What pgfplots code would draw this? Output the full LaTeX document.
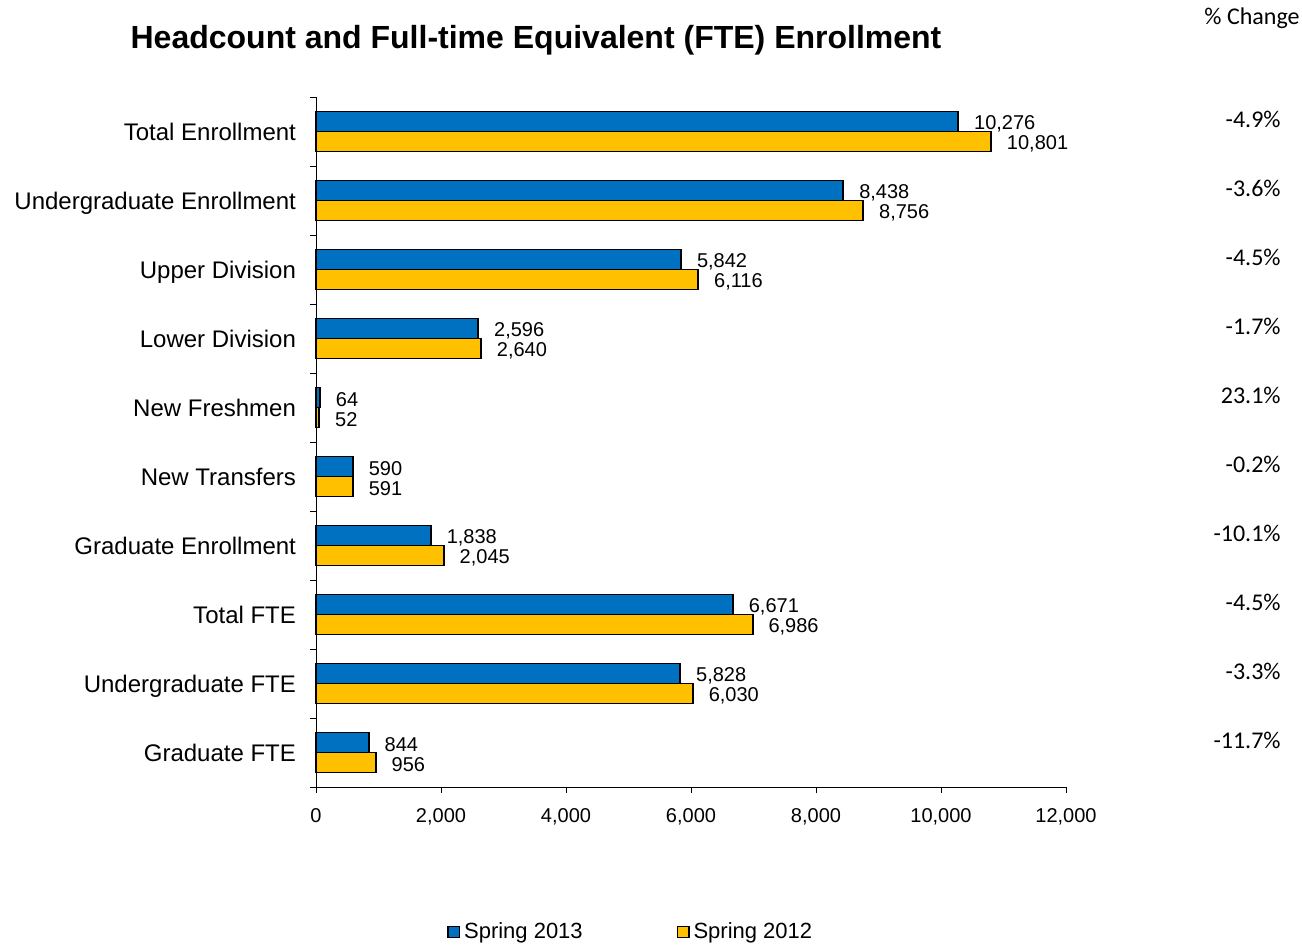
\documentclass[border=0pt]{standalone}
\usepackage{pgfplots}
\pgfplotsset{compat=1.18}
\usepackage{pgfplotstable}
\usepackage{fontspec}
\setmainfont{Liberation Sans}
\newfontfamily\calibri{Carlito}
\definecolor{sblue}{HTML}{0070C0}
\definecolor{syellow}{HTML}{FFC000}

\pgfplotstableread{
idx s2013 s2012
0 10276 10801
1 8438 8756
2 5842 6116
3 2596 2640
4 64 52
5 590 591
6 1838 2045
7 6671 6986
8 5828 6030
9 844 956
}\datatable

\begin{document}
\begin{tikzpicture}
\path[use as bounding box] (-158pt,-78.5pt) rectangle (493pt,393.5pt);
\begin{axis}[
  at={(0pt,0pt)}, anchor=south west,
  scale only axis, width=375pt, height=345pt,
  xbar, bar width=10pt,
  xmin=0, xmax=12000, ymin=-0.5, ymax=9.5, y dir=reverse,
  axis x line*=bottom, axis y line*=left,
  clip=false,
  tick align=outside,
  major tick length=3pt,
  minor tick length=3pt,
  xtick={0,2000,...,12000},
  scaled x ticks=false,
  ytick={0,...,9},
  yticklabels={Total Enrollment, Undergraduate Enrollment, Upper Division, Lower Division, New Freshmen, New Transfers, Graduate Enrollment, Total FTE, Undergraduate FTE, Graduate FTE},
  major y tick style={draw=none},
  minor ytick={-0.5,0.5,...,9.5},
  minor y tick style={draw=black},
  x tick style={draw=black},
  yticklabel style={font=\fontsize{12}{14}\selectfont, anchor=base east, xshift=-3.5pt, yshift=-4.3pt},
  xticklabel style={font=\fontsize{10}{12}\selectfont, yshift=-4pt},
  xticklabel={\pgfmathprintnumber[fixed,precision=0,1000 sep={,},assume math mode=true]{\tick}},
  /pgf/number format/.cd, 1000 sep={,}, assume math mode=true,
  /pgfplots/.cd,
  point meta=x,
  nodes near coords,
  nodes near coords style={font=\fontsize{10}{12}\selectfont, anchor=west, inner sep=0pt, xshift=7.5pt, yshift=-1pt},
  legend style={at={(0.421,-0.21)}, anchor=center, draw=none, legend columns=2,
    font=\fontsize{11}{13}\selectfont,
    /tikz/every even column/.append style={column sep=45pt}},
  legend image code/.code={\draw[#1, line width=0.6pt] (0pt,-2.9pt) rectangle (5.8pt,2.9pt);},
]
\addplot[fill=sblue, draw=black, line width=0.9pt, bar shift=5pt] table[x=s2013, y=idx] {\datatable};
\addlegendentry{Spring 2013}
\addplot[fill=syellow, draw=black, line width=0.9pt, bar shift=-5pt] table[x=s2012, y=idx] {\datatable};
\addlegendentry{Spring 2012}

\begin{scope}[every node/.style={font=\calibri\fontsize{12}{14}\selectfont, anchor=east, inner sep=0pt, yshift=6pt}]
\node at (axis cs:15440,0) {-4.9\%};
\node at (axis cs:15440,1) {-3.6\%};
\node at (axis cs:15440,2) {-4.5\%};
\node at (axis cs:15440,3) {-1.7\%};
\node at (axis cs:15440,4) {23.1\%};
\node at (axis cs:15440,5) {-0.2\%};
\node at (axis cs:15440,6) {-10.1\%};
\node at (axis cs:15440,7) {-4.5\%};
\node at (axis cs:15440,8) {-3.3\%};
\node at (axis cs:15440,9) {-11.7\%};
\end{scope}
\end{axis}
\node[font=\bfseries\fontsize{16}{19}\selectfont] at (110pt,373.5pt) {Headcount and Full-time Equivalent (FTE) Enrollment};
\node[font=\calibri\fontsize{12}{14}\selectfont, anchor=east, inner sep=0pt] at (492pt,384.5pt) {\% Change};
\end{tikzpicture}
\end{document}
